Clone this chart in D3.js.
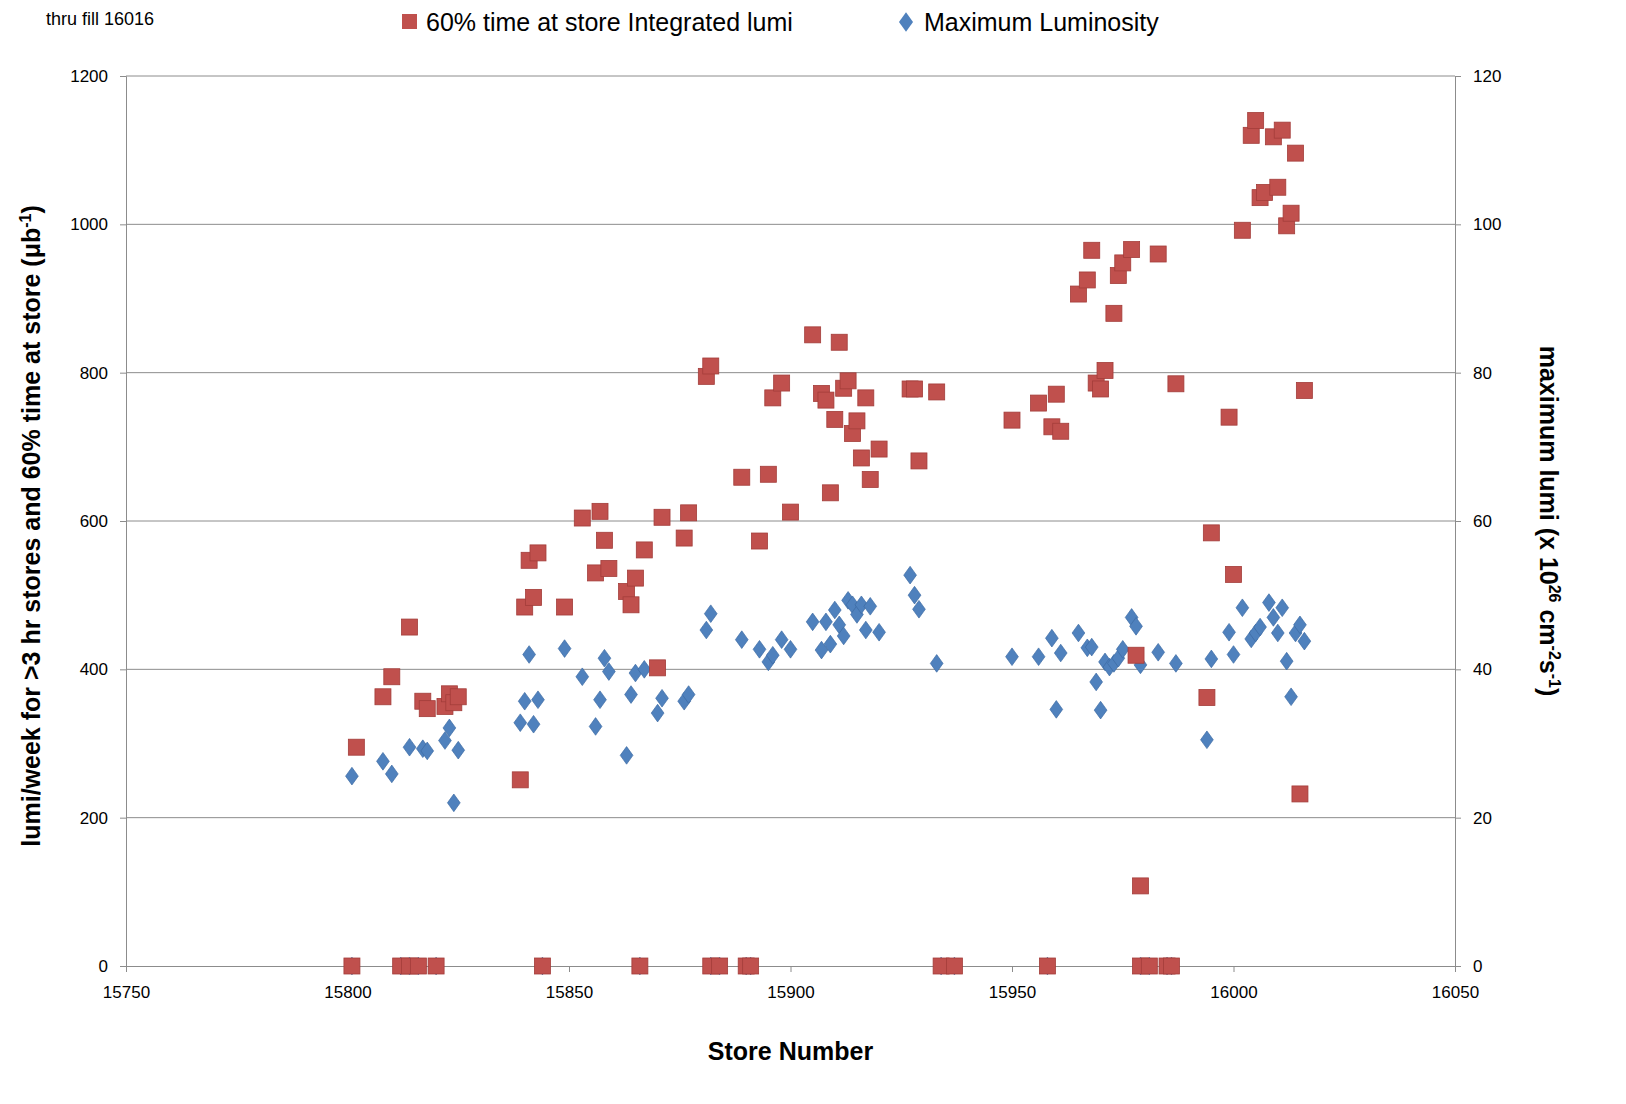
<!DOCTYPE html>
<html><head><meta charset="utf-8">
<script src="https://cdn.jsdelivr.net/npm/d3@7"></script>
<style>body{margin:0;background:#fff;font-family:"Liberation Sans",Arial,sans-serif}</style>
</head><body><div id="chart"></div>
<script>
// Data
const zeroStores = [15801,15812,15814,15816,15820,15844,15866,15882,15884,15890,15891,15934,15937,15958,15979,15981,15985,15986];
const lumiStores = [15802,15808,15810,15814,15817,15818,15822,15823,15824,15825,15839,15840,15841,15842,15843,15849,15853,15856,15857,15858,15859,15863,15864,15865,15867,15870,15871,15876,15877,15881,15882,15889,15893,15895,15896,15898,15900,15905,15907,15908,15909,15910,15911,15912,15913,15914,15915,15916,15917,15918,15920,15927,15928,15929,15933,15950,15956,15959,15960,15961,15965,15967,15968,15969,15970,15971,15973,15974,15975,15977,15978,15979,15983,15987,15994,15995,15999,16000,16002,16004,16005,16006,16007,16009,16010,16011,16012,16013,16014,16015,16016];
const lumiValues = [295,363,390,457,357,347,350,367,355,363,251,484,547,497,557,484,604,530,613,574,536,505,487,523,561,402,605,577,611,795,809,659,573,663,766,786,612,851,772,763,638,737,841,779,789,718,735,685,766,656,697,778,778,681,774,736,759,727,771,721,906,925,965,786,778,803,880,931,948,966,419,108,960,785,362,584,740,528,992,1120,1140,1036,1043,1118,1050,1127,998,1015,1096,232,776];
const maxStores = [15801,15808,15810,15814,15817,15818,15822,15823,15824,15825,15839,15840,15841,15842,15843,15849,15853,15856,15857,15858,15859,15863,15864,15865,15867,15870,15871,15876,15877,15881,15882,15889,15893,15895,15896,15898,15900,15905,15907,15908,15909,15910,15911,15912,15913,15914,15915,15916,15917,15918,15920,15927,15928,15929,15933,15950,15956,15959,15960,15961,15965,15967,15968,15969,15970,15971,15972,15973,15974,15975,15977,15978,15979,15983,15987,15994,15995,15999,16000,16002,16004,16005,16006,16008,16009,16010,16011,16012,16013,16014,16015,16016];
const maxValues = [25.6,27.6,25.9,29.5,29.3,29.0,30.4,32.1,22.0,29.1,32.8,35.7,42.0,32.6,35.9,42.8,39.0,32.3,35.9,41.5,39.7,28.4,36.6,39.5,40.0,34.1,36.1,35.7,36.6,45.3,47.5,44.0,42.7,41.0,41.9,44.0,42.7,46.4,42.6,46.4,43.4,48.0,46.0,44.5,49.3,48.7,47.4,48.7,45.3,48.5,45.0,52.7,50.0,48.1,40.8,41.7,41.7,44.2,34.6,42.2,44.9,42.9,43.0,38.3,34.5,41.0,40.3,40.8,41.5,42.7,47.0,45.8,40.6,42.3,40.8,30.5,41.4,45.0,42.0,48.3,44.1,44.9,45.7,49.0,47.0,44.9,48.3,41.1,36.3,44.9,46.0,43.8];
const xTicks = [15750,15800,15850,15900,15950,16000,16050];
const yLeftTicks = [0,200,400,600,800,1000,1200];
const yRightTicks = [0,20,40,60,80,100,120];

const W = 1626, H = 1104;
const m = {left:126, right:171, top:76, bottom:138};
const svg = d3.select("#chart").append("svg").attr("width", W).attr("height", H);

const x = d3.scaleLinear().domain([15750,16050]).range([m.left, W - m.right]);
const yL = d3.scaleLinear().domain([0,1200]).range([H - m.bottom, m.top]);
const yR = d3.scaleLinear().domain([0,120]).range([H - m.bottom, m.top]);

// gridlines
svg.append("g").selectAll("line").data(yLeftTicks.slice(1)).join("line")
	.attr("x1", m.left).attr("x2", W - m.right)
	.attr("y1", d => yL(d)).attr("y2", d => yL(d))
	.attr("stroke", "#8c8c8c").attr("stroke-width", 1);

const fmt = d => d;
const styleAxis = g => {
	g.selectAll(".domain").attr("stroke", "#8c8c8c");
	g.selectAll(".tick line").attr("stroke", "#8c8c8c");
	g.selectAll("text").attr("font-size", 17).attr("fill", "#000").attr("font-family", "Liberation Sans, Arial, sans-serif");
};
svg.append("g").attr("transform", `translate(0,${H - m.bottom})`)
	.call(d3.axisBottom(x).tickValues(xTicks).tickFormat(fmt).tickSize(6).tickPadding(14)).call(styleAxis);
svg.append("g").attr("transform", `translate(${m.left},0)`)
	.call(d3.axisLeft(yL).tickValues(yLeftTicks).tickFormat(fmt).tickSize(6).tickPadding(12)).call(styleAxis);
svg.append("g").attr("transform", `translate(${W - m.right},0)`)
	.call(d3.axisRight(yR).tickValues(yRightTicks).tickFormat(fmt).tickSize(6).tickPadding(12)).call(styleAxis);

// points
const zerosLumi = zeroStores.map(s => [s, 0]);
const blue = maxStores.map((s, i) => [s, maxValues[i]]).concat(zeroStores.map(s => [s, 0]));
const red = lumiStores.map((s, i) => [s, lumiValues[i]]).concat(zerosLumi);

const diamond = d3.symbol(d3.symbolDiamond, 90);
svg.append("g").selectAll("path").data(blue).join("path")
	.attr("d", diamond)
	.attr("transform", d => `translate(${x(d[0])},${yR(d[1])}) scale(1.25,1)`)
	.attr("fill", "#4f81bd").attr("stroke", "#3b6aa3").attr("stroke-width", 0.6);
svg.append("g").selectAll("rect").data(red).join("rect")
	.attr("x", d => x(d[0]) - 8).attr("y", d => yL(d[1]) - 8)
	.attr("width", 16).attr("height", 16)
	.attr("fill", "#c0504d").attr("stroke", "#a33d3a").attr("stroke-width", 0.8);

// texts
svg.append("text").attr("x", 46).attr("y", 25).attr("font-size", 18).text("thru fill 16016");
svg.append("rect").attr("x", 402).attr("y", 14).attr("width", 15).attr("height", 15).attr("fill", "#c0504d");
svg.append("text").attr("x", 426).attr("y", 31).attr("font-size", 25).text("60% time at store Integrated lumi");
svg.append("path").attr("d", d3.symbol(d3.symbolDiamond, 110)).attr("transform", "translate(906,22) scale(1.25,1)").attr("fill", "#4f81bd");
svg.append("text").attr("x", 924).attr("y", 31).attr("font-size", 25).text("Maximum Luminosity");

svg.append("text").attr("x", (m.left + W - m.right) / 2).attr("y", 1060).attr("text-anchor", "middle")
	.attr("font-size", 25).attr("font-weight", "bold").text("Store Number");

const lt = svg.append("text").attr("transform", `translate(40,${(m.top + H - m.bottom) / 2 + 5}) rotate(-90)`)
	.attr("text-anchor", "middle").attr("font-size", 25).attr("font-weight", "bold");
lt.append("tspan").text("lumi/week  for >3 hr stores and 60% time at store (μb");
lt.append("tspan").attr("dy", -9).attr("font-size", 16).text("-1");
lt.append("tspan").attr("dy", 9).text(")");

const rt = svg.append("text").attr("transform", `translate(1540,${(m.top + H - m.bottom) / 2}) rotate(90)`)
	.attr("text-anchor", "middle").attr("font-size", 25).attr("font-weight", "bold");
rt.append("tspan").text("maximum lumi (x 10");
rt.append("tspan").attr("dy", -9).attr("font-size", 16).text("26");
rt.append("tspan").attr("dy", 9).text(" cm");
rt.append("tspan").attr("dy", -9).attr("font-size", 16).text("-2");
rt.append("tspan").attr("dy", 9).text("s");
rt.append("tspan").attr("dy", -9).attr("font-size", 16).text("-1");
rt.append("tspan").attr("dy", 9).text(")");
</script></body></html>
